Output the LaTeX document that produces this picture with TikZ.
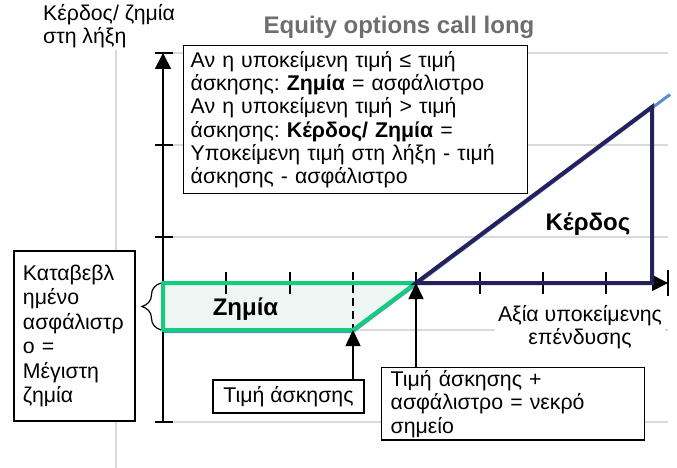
\documentclass[tikz,border=0pt]{standalone}
\usepackage{fontspec}
\setmainfont{Liberation Sans}
\frenchspacing
\usetikzlibrary{arrows.meta,decorations.pathreplacing}
\definecolor{navyline}{RGB}{38,33,92}
\definecolor{blueline}{RGB}{91,143,204}
\definecolor{greenline}{RGB}{20,204,125}
\definecolor{lossfill}{RGB}{238,246,243}
\definecolor{gridgray}{RGB}{217,217,217}
\definecolor{titlegray}{RGB}{110,110,110}
\tikzset{
  gridline/.style={draw=gridgray, line width=1.2pt},
  axisline/.style={draw=black, line width=1.6pt},
  tickmark/.style={draw=black, line width=1.6pt},
  txt/.style={font=\fontsize{21.3}{23.3}\selectfont},
  boldtxt/.style={font=\fontsize{24}{28}\selectfont\bfseries},
  boxnode/.style={draw=black, line width=1.4pt, fill=white, txt},
  pointer/.style={draw=black, line width=1.6pt, -{Triangle[length=16pt,width=15pt]}},
}
\begin{document}
\begin{tikzpicture}[x=1pt,y=-1pt]
\useasboundingbox (0,0) rectangle (677,468);
% grid
\draw[gridline] (116,50) -- (116,468);
\foreach \yy in {53,145,237,330,422} \draw[gridline] (163,\yy) -- (668,\yy);
% named points
\coordinate (O) at (163,283);
\coordinate (K) at (353,330);
\coordinate (BE) at (416,283);
\coordinate (P) at (652,107);
\coordinate (PB) at (652,283);
\coordinate (XE) at (668,283);
\coordinate (YE) at (163,53);
\coordinate (YB) at (163,422);
\coordinate (LL) at (163,330);
% loss area
\fill[lossfill] (O) -- (BE) -- (K) -- (LL) -- cycle;
% payoff line (light blue)
\draw[blueline, line width=3pt] (163,331.5) -- (353,331.5) -- (670,94.5);
% axes
\draw[axisline, -{Triangle[length=16pt,width=16pt]}] (YB) -- (YE);
\draw[axisline, -{Triangle[length=16pt,width=16pt]}] (O) -- (XE);
% ticks
\foreach \yy in {53,145,237,422} \draw[tickmark] (155,\yy) -- (173,\yy);
\foreach \xx in {226,290,416,480,543,606} \draw[tickmark] (\xx,272) -- (\xx,294);
\draw[tickmark] (668,270) -- (668,296);
\draw[tickmark, dash pattern=on 8pt off 5pt] (353,272) -- (K);
% green loss outline
\draw[greenline, line width=4pt, line join=round] (O) -- (BE) -- (K) -- (LL) -- cycle;
% navy profit triangle
\draw[navyline, line width=4pt, line join=miter] (BE) -- (P) -- (PB) -- cycle;
% brace
\draw[line width=1.2pt, decorate, decoration={brace, amplitude=19pt}] (161,330) -- (161,283);
% texts
\node[boldtxt, text=titlegray, anchor=base] (title) at (399,34) {Equity options call long};
\node[txt, align=left, anchor=north west, inner sep=0pt] (ylab) at (43,4) {Κέρδος/ ζημία\\στη λήξη};
\node[boldtxt, anchor=base] (loss) at (245.5,315) {Ζημία};
\node[boldtxt, anchor=base] (profit) at (588,230) {Κέρδος};
\node[txt, fill=white, inner sep=3pt, align=center] (xlab) at (580,327) {Αξία υποκείμενης\\επένδυσης};
% boxes
\node[boxnode, anchor=north west, text width=330pt, inner xsep=7pt, inner ysep=0pt, minimum height=148pt, align=left] (cond) at (183,45)
  {Αν η υποκείμενη τιμή ≤ τιμή\\άσκησης: \textbf{Ζημία} = ασφάλιστρο\\Αν η υποκείμενη τιμή > τιμή\\άσκησης: \textbf{Κέρδος/ Ζημία} =\\Υποκείμενη τιμή στη λήξη - τιμή\\άσκησης - ασφάλιστρο};
\node[boxnode, font=\fontsize{21.3}{24.5}\selectfont, text width=103pt, inner xsep=9pt, inner ysep=0pt, minimum height=170pt, align=left] (prem) at (74.5,336)
  {Καταβεβλ\\ημένο\\ασφάλιστρ\\ο =\\Μέγιστη\\ζημία};
\node[boxnode, minimum width=151pt, minimum height=33pt, inner sep=0pt] (strike) at (288.5,396.5) {Τιμή άσκησης};
\node[boxnode, font=\fontsize{21.3}{23.5}\selectfont, anchor=north west, text width=245pt, inner xsep=9pt, inner ysep=2.5pt, align=left] (be) at (381,367)
  {Τιμή άσκησης +\\ασφάλιστρο = νεκρό\\σημείο};
% pointers
\draw[pointer] (strike.north -| K) -- (K);
\draw[pointer] (be.north -| BE) -- (BE);
\end{tikzpicture}
\end{document}
